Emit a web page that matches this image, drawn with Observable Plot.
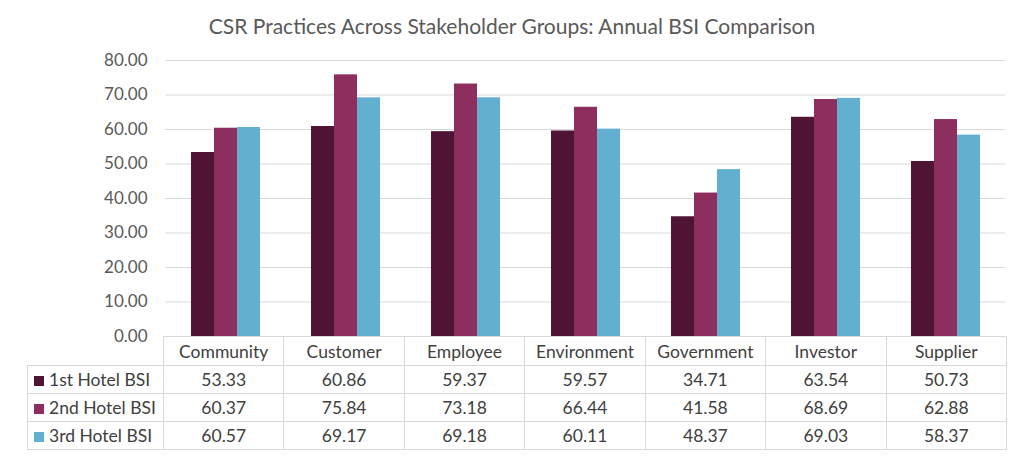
<!DOCTYPE html>
<html><head><meta charset="utf-8">
<script src="https://cdn.jsdelivr.net/npm/d3@7"></script>
<script src="https://cdn.jsdelivr.net/npm/@observablehq/plot@0.6"></script>
<style>
body{margin:0;background:#fff;font-family:Lato,"Open Sans",sans-serif;}
#wrap{position:relative;width:1024px;height:457px;overflow:hidden;background:#fff}
#title{position:absolute;top:13px;left:0;width:1024px;text-align:center;font-size:21px;color:#595959;line-height:26px}
#chart{position:absolute;top:45px;left:0}
table{position:absolute;top:336px;left:27px;border-collapse:collapse;table-layout:fixed;font-size:17.5px;color:#404040;width:979px}
td{border:1px solid #d9d9d9;text-align:center;padding:0;height:27px;white-space:nowrap}
tr.head td{height:28px}
td.leg{text-align:left;padding-left:6px}
span.sw{display:inline-block;width:10px;height:10px;margin-right:5px;vertical-align:0px}
</style></head>
<body>
<div id="wrap">
<div id="title">CSR Practices Across Stakeholder Groups: Annual BSI Comparison</div>
<div id="chart"></div>
<table id="tbl"></table>
</div>
<script>
const categories = ["Community","Customer","Employee","Environment","Government","Investor","Supplier"];
const series = ["1st Hotel BSI","2nd Hotel BSI","3rd Hotel BSI"];
const hotel1 = [53.33,60.86,59.37,59.57,34.71,63.54,50.73];
const hotel2 = [60.37,75.84,73.18,66.44,41.58,68.69,62.88];
const hotel3 = [60.57,69.17,69.18,60.11,48.37,69.03,58.37];
const colors = ["#4F1434","#8E2E5F","#63AFCF"];
const yTicks = [0,10,20,30,40,50,60,70,80];

const values = [hotel1, hotel2, hotel3];
const data = [];
series.forEach((s, i) => categories.forEach((c, j) => data.push({cat: c, series: s, value: values[i][j]})));

const chart = Plot.plot({
  width: 1024, height: 305,
  marginTop: 15, marginBottom: 14, marginLeft: 163, marginRight: 18,
  style: {fontFamily: "Lato, 'Open Sans', sans-serif", color: "#595959", background: "transparent"},
  fx: {domain: categories, padding: 0, axis: null},
  x: {domain: series, paddingInner: 0, paddingOuter: 1.1, axis: null},
  y: {domain: [0, 80]},
  color: {domain: series, range: colors},
  marks: [
    Plot.ruleY(yTicks, {stroke: "#d9d9d9", strokeWidth: 1}),
    Plot.barY(data, {fx: "cat", x: "series", y: "value", fill: "series"}),
    Plot.axisY({ticks: yTicks, tickSize: 0, tickPadding: 18, fontSize: 17, tickFormat: d => d.toFixed(2), label: null, fill: "#595959"})
  ]
});
document.getElementById("chart").appendChild(chart);

// data table
const tbl = d3.select("#tbl");
const cg = tbl.append("colgroup");
cg.append("col").style("width", "136px");
categories.forEach(() => cg.append("col").style("width", (843/7) + "px"));
const head = tbl.append("tr").attr("class", "head");
head.append("td").style("border-left", "none").style("border-top", "none");
categories.forEach(c => head.append("td").text(c));
series.forEach((s, i) => {
  const tr = tbl.append("tr");
  const td = tr.append("td").attr("class", "leg");
  td.append("span").attr("class", "sw").style("background", colors[i]);
  td.append("span").text(s);
  values[i].forEach(v => tr.append("td").text(v.toFixed(2)));
});
</script>
</body></html>
